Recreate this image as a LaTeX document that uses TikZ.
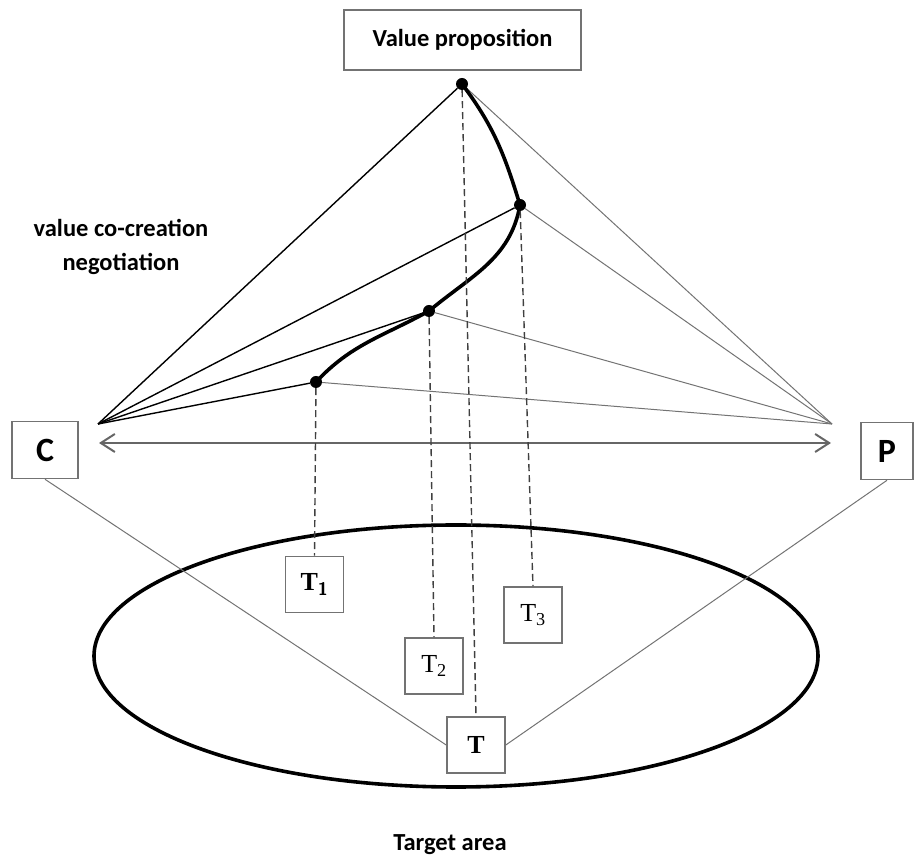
\documentclass[tikz,border=0pt]{standalone}
\usepackage{fontspec}
\setmainfont{Carlito}
\newfontfamily\tserif{Liberation Serif}
\usetikzlibrary{arrows.meta,positioning}

\begin{document}
\begin{tikzpicture}[x=1pt,y=1pt,
  box/.style={draw=black!55,line width=1.6pt,fill=white,inner sep=0pt},
  tbox/.style={box,minimum width=58pt,minimum height=56pt,font=\tserif\fontsize{26}{28}\selectfont},
  dot/.style={circle,fill=black,inner sep=0pt,minimum size=12pt},
  lbl/.style={font=\bfseries\fontsize{24.5}{34}\selectfont,align=center},
  spoke/.style={line width=1.4pt},
  gspoke/.style={black!55,line width=1pt},
  drop/.style={black!75,line width=1.4pt,dash pattern=on 7pt off 4pt}]

\useasboundingbox (0,0) rectangle (914,860);

% boxes
\node[box,lbl,minimum width=237pt,minimum height=60pt] (vp) at (462.5,820) {Value proposition};
\node[box,minimum width=66pt,minimum height=57pt,font=\bfseries\fontsize{34}{34}\selectfont] (C) at (45,410) {C};
\node[box,minimum width=52pt,minimum height=57pt,font=\bfseries\fontsize{34}{34}\selectfont] (P) at (887,409) {P};
\node[lbl] (neg) at (121,613) {value co-creation\\negotiation};
\node[lbl] (tgt) at (450,15) {Target area};

% target area
\draw[line width=3.6pt] (456,204) ellipse [x radius=362, y radius=131];

\node[tbox] (t1) at (314.5,275.5) {\bfseries T\textsubscript{\sffamily\bfseries 1}};
\node[tbox] (t2) at (434,194) {T\textsubscript{2}};
\node[tbox] (t3) at (533,245) {T\textsubscript{3}};
\node[tbox] (t) at (476,115) {\bfseries T};

% points on the path
\node[dot] (d0) at (462,776) {};
\node[dot] (d1) at (520,655) {};
\node[dot] (d2) at (429,549) {};
\node[dot] (d3) at (316,478) {};
\coordinate (cl) at (98,436);
\coordinate (cr) at (832,436);
\coordinate (al) at (99,417);
\coordinate (ar) at (831,417);

\foreach \d in {d0,d1,d2,d3} {
  \draw[spoke] (cl) -- (\d);
  \draw[gspoke] (cr) -- (\d);
}

\draw[black!60,line width=2pt,{Straight Barb[length=14pt,width=18pt]}-{Straight Barb[length=14pt,width=18pt]}] (al) -- (ar);

\draw[line width=3.6pt] (d0.center) to[out=-53,in=107] (d1.center)
  to[out=-100,in=40] (d2.center) to[out=-151,in=47] (d3.center);

\draw[drop] (d0) -- (t.north);
\draw[drop] (d1) -- (t3.north);
\draw[drop] (d2) -- (t2.north);
\draw[drop] (d3) -- (t1.north);

\draw[gspoke] (C.south) -- (t.west);
\draw[gspoke] (P.south) -- (t.east);

\end{tikzpicture}
\end{document}
